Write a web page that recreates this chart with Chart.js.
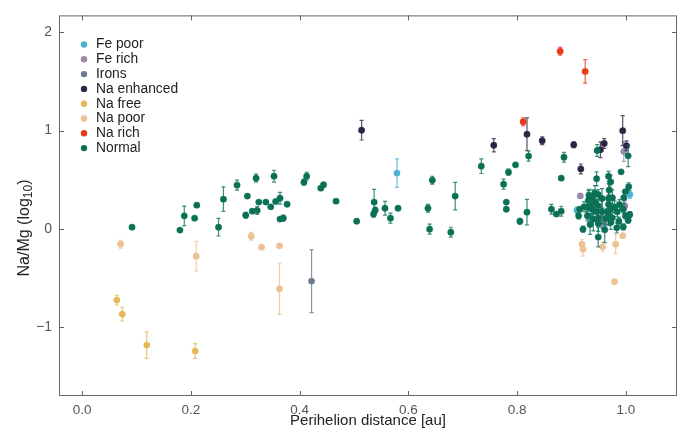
<!DOCTYPE html>
<html>
<head>
<meta charset="utf-8">
<script src="https://cdn.jsdelivr.net/npm/chart.js@4.4.0/dist/chart.umd.min.js"></script>
<style>
html, body { margin: 0; padding: 0; background: #fff; }
</style>
</head>
<body>
<canvas id="chart" width="686" height="430"></canvas>
<script>
// tick labels
const xTicks = [0, 0.2, 0.4, 0.6, 0.8, 1.0];
const yTicks = [-1, 0, 1, 2];

// groups: perihelion distance, Na/Mg, error
const groupNames = ['Fe poor', 'Fe rich', 'Irons', 'Na enhanced', 'Na free', 'Na poor', 'Na rich', 'Normal'];
const groupColors = ['#4ab3cf', '#9b88aa', '#6d7b8c', '#2e2545', '#e4b95c', '#edc194', '#ea3a1b', '#0b7156'];

const fePoorX = [0.579, 1.007, 0.910, 0.932, 0.958];
const fePoorY = [0.567, 0.349, 0.190, 0.122, 0.027];
const fePoorE = [0.146, 0.04, 0.03, 0.08, 0.05];

const feRichX = [0.916, 0.996, 0.998, 0.957, 0.958];
const feRichY = [0.335, 0.787, 0.234, 0.112, 0.064];
const feRichE = [0.02, 0.10, 0.05, 0.10, 0.06];

const ironsX = [0.422];
const ironsY = [-0.532];
const ironsE = [0.32];

const naEnhX = [0.514, 0.757, 0.818, 0.846, 0.904, 0.917, 0.960, 0.953, 0.994, 1.001];
const naEnhY = [1.004, 0.851, 0.963, 0.896, 0.855, 0.610, 0.869, 0.805, 0.999, 0.845];
const naEnhE = [0.10, 0.068, 0.166, 0.04, 0.03, 0.05, 0.05, 0.08, 0.153, 0.05];

const naFreeX = [0.064, 0.074, 0.119, 0.208];
const naFreeY = [-0.725, -0.868, -1.183, -1.244];
const naFreeE = [0.048, 0.07, 0.135, 0.075];

const naPoorX = [0.071, 0.210, 0.311, 0.330, 0.363, 0.363, 0.919, 0.921, 0.957, 0.981, 0.994, 0.979];
const naPoorY = [-0.156, -0.278, -0.075, -0.187, -0.173, -0.610, -0.156, -0.207, -0.183, -0.156, -0.071, -0.539];
const naPoorE = [0.04, 0.15, 0.04, 0, 0.02, 0.26, 0.05, 0.07, 0.05, 0.10, 0, 0];

const naRichX = [0.879, 0.925, 0.811];
const naRichY = [1.807, 1.602, 1.090];
const naRichE = [0.04, 0.12, 0.04];

const normalX = [0.092, 0.180, 0.188, 0.207, 0.211, 0.251, 0.260, 0.285, 0.301, 0.304,
  0.313, 0.320, 0.322, 0.325, 0.338, 0.347, 0.353, 0.356, 0.364, 0.364,
  0.370, 0.377, 0.408, 0.413, 0.439, 0.444, 0.467, 0.505, 0.537, 0.536,
  0.539, 0.557, 0.567, 0.581, 0.636, 0.644, 0.639, 0.678, 0.686, 0.734,
  0.775, 0.780, 0.780, 0.784, 0.797, 0.805, 0.818, 0.821, 0.863, 0.872,
  0.881, 0.881, 0.886, 0.947, 0.946, 0.968, 0.991, 1.004, 1.005, 0.999,
  0.943, 0.972, 0.969, 0.932, 0.938, 0.949, 0.956, 0.975, 0.996, 0.931,
  0.943, 0.968, 0.923, 0.928, 0.936, 0.949, 0.968, 0.988, 0.979, 0.915,
  0.938, 0.946, 0.956, 0.966, 0.972, 0.984, 0.995, 0.913, 0.929, 0.949,
  0.968, 0.975, 0.999, 1.007, 0.940, 0.963, 0.987, 1.004, 0.934, 0.949,
  0.972, 0.921, 0.983, 0.995, 0.949, 0.961];
const normalY = [0.017, -0.013, 0.132, 0.109, 0.241, 0.017, 0.302, 0.445, 0.139, 0.333,
  0.180, 0.516, 0.186, 0.272, 0.272, 0.224, 0.536, 0.278, 0.312, 0.099,
  0.109, 0.251, 0.475, 0.536, 0.414, 0.448, 0.282, 0.078, 0.272, 0.150,
  0.190, 0.210, 0.109, 0.210, 0.210, 0.495, -0.003, -0.034, 0.333, 0.638,
  0.455, 0.272, 0.200, 0.577, 0.651, 0.078, 0.170, 0.740, 0.200, 0.150,
  0.180, 0.516, 0.729, 0.797, 0.510, 0.535, 0.580, 0.743, 0.429, 0.379,
  0.360, 0.478, 0.394, 0.343, 0.316, 0.349, 0.309, 0.316, 0.316, 0.292,
  0.275, 0.310, 0.224, 0.224, 0.234, 0.234, 0.247, 0.247, 0.224, 0.200,
  0.200, 0.173, 0.173, 0.180, 0.200, 0.173, 0.200, 0.132, 0.132, 0.112,
  0.132, 0.112, 0.132, 0.146, 0.099, 0.105, 0.078, 0.088, 0.044, 0.054,
  0.064, -0.003, 0.010, 0.020, -0.084, -0.010];
const normalE = [0, 0, 0.10, 0, 0, 0.09, 0.125, 0.05, 0.03, 0,
  0, 0.04, 0.04, 0, 0, 0, 0.06, 0, 0.06, 0,
  0.03, 0, 0.03, 0.04, 0, 0.02, 0, 0.02, 0.13, 0.03,
  0.03, 0.07, 0.05, 0, 0.04, 0.04, 0.05, 0.05, 0.14, 0.075,
  0.05, 0, 0, 0.03, 0, 0.03, 0.13, 0.05, 0.05, 0,
  0.05, 0, 0.05, 0.06, 0.07, 0.05, 0, 0.11, 0.04, 0,
  0.08, 0.07, 0.06, 0.06, 0.08, 0.05, 0.10, 0.08, 0.06, 0.10,
  0.12, 0.15, 0.05, 0.06, 0.08, 0.05, 0.10, 0.05, 0.06, 0,
  0.07, 0.10, 0.12, 0.08, 0.06, 0.05, 0.04, 0.03, 0.05, 0.08,
  0.10, 0.05, 0.03, 0.03, 0.12, 0.06, 0.04, 0.03, 0.10, 0.08,
  0.07, 0.03, 0.05, 0.03, 0.10, 0.13];

const groupX = [fePoorX, feRichX, ironsX, naEnhX, naFreeX, naPoorX, naRichX, normalX];
const groupY = [fePoorY, feRichY, ironsY, naEnhY, naFreeY, naPoorY, naRichY, normalY];
const groupE = [fePoorE, feRichE, ironsE, naEnhE, naFreeE, naPoorE, naRichE, normalE];

const FONT = '"Liberation Sans", Arial, sans-serif';

function hexA(hex, a) {
  const n = parseInt(hex.slice(1), 16);
  return 'rgba(' + (n >> 16) + ',' + ((n >> 8) & 255) + ',' + (n & 255) + ',' + a + ')';
}

const datasets = groupNames.map((name, i) => ({
  label: name,
  data: groupX[i].map((x, j) => ({ x: x, y: groupY[i][j], e: groupE[i][j] })),
  backgroundColor: groupColors[i],
  borderColor: hexA(groupColors[i], 0.35),
  borderWidth: 1,
  pointRadius: 3.2,
  order: groupNames.length - i
}));

// error bars drawn just before each group's markers
const errorBars = {
  id: 'errorBars',
  beforeDatasetDraw(chart, args) {
    const ctx = chart.ctx;
    const xs = chart.scales.x, ys = chart.scales.y;
    const ds = chart.data.datasets[args.index];
    ctx.save();
    ctx.strokeStyle = hexA(ds.backgroundColor, 0.8);
    ctx.lineWidth = 1.2;
    ds.data.forEach(p => {
      if (!p.e) return;
      const px = xs.getPixelForValue(p.x);
      const y1 = ys.getPixelForValue(p.y + p.e);
      const y2 = ys.getPixelForValue(p.y - p.e);
      ctx.beginPath();
      ctx.moveTo(px, y1); ctx.lineTo(px, y2);
      ctx.moveTo(px - 2, y1); ctx.lineTo(px + 2, y1);
      ctx.moveTo(px - 2, y2); ctx.lineTo(px + 2, y2);
      ctx.stroke();
    });
    ctx.restore();
  }
};

// box, inward ticks, axis titles and legend
const frame = {
  id: 'frame',
  afterDraw(chart) {
    const ctx = chart.ctx;
    const a = chart.chartArea;
    const xs = chart.scales.x, ys = chart.scales.y;
    ctx.save();
    ctx.strokeStyle = '#666';
    ctx.lineWidth = 1;
    ctx.strokeRect(a.left + 0.5, a.top + 0.5, a.right - a.left - 1, a.bottom - a.top - 1);
    ctx.beginPath();
    xTicks.forEach(v => {
      const px = Math.round(xs.getPixelForValue(v)) + 0.5;
      ctx.moveTo(px, a.bottom); ctx.lineTo(px, a.bottom - 5);
      ctx.moveTo(px, a.top); ctx.lineTo(px, a.top + 5);
    });
    yTicks.forEach(v => {
      const py = Math.round(ys.getPixelForValue(v)) + 0.5;
      ctx.moveTo(a.left, py); ctx.lineTo(a.left + 5, py);
      ctx.moveTo(a.right, py); ctx.lineTo(a.right - 5, py);
    });
    ctx.stroke();

    ctx.fillStyle = '#222';
    ctx.font = '15px ' + FONT;
    ctx.textAlign = 'center';
    ctx.textBaseline = 'middle';
    ctx.fillText('Perihelion distance [au]', (a.left + a.right) / 2, 421);

    // y title with a real subscript
    ctx.translate(25, 228);
    ctx.rotate(-Math.PI / 2);
    ctx.font = '16px ' + FONT;
    const head = 'Na/Mg (log', sub = '10', tail = ')';
    const wHead = ctx.measureText(head).width;
    const wTail = ctx.measureText(tail).width;
    ctx.font = '12px ' + FONT;
    const wSub = ctx.measureText(sub).width;
    let x0 = -(wHead + wSub + wTail) / 2;
    ctx.textAlign = 'left';
    ctx.font = '16px ' + FONT;
    ctx.fillText(head, x0, 0);
    ctx.font = '12px ' + FONT;
    ctx.fillText(sub, x0 + wHead, 4);
    ctx.font = '16px ' + FONT;
    ctx.fillText(tail, x0 + wHead + wSub, 0);
    ctx.setTransform(1, 0, 0, 1, 0, 0);

    ctx.font = '13.8px ' + FONT;
    ctx.textAlign = 'left';
    groupNames.forEach((name, i) => {
      const y = 44.5 + i * 14.8;
      ctx.fillStyle = groupColors[i];
      ctx.beginPath();
      ctx.arc(84, y, 3.2, 0, Math.PI * 2);
      ctx.fill();
      ctx.fillStyle = '#222';
      ctx.fillText(name, 96, y);
    });
    ctx.restore();
  }
};

new Chart(document.getElementById('chart'), {
  type: 'scatter',
  data: { datasets: datasets },
  options: {
    responsive: false,
    animation: false,
    devicePixelRatio: 1,
    layout: { padding: { top: 13, right: 9, left: 0, bottom: 0 } },
    plugins: { legend: { display: false }, tooltip: { enabled: false } },
    scales: {
      x: {
        type: 'linear',
        min: -0.0423,
        max: 1.0938,
        grid: { display: false, drawTicks: false, tickLength: 0 },
        border: { display: false },
        afterBuildTicks: s => { s.ticks = xTicks.map(v => ({ value: v })); },
        afterFit: s => { s.height = 34; },
        ticks: {
          color: '#555',
          font: { family: FONT, size: 13.5 },
          padding: 6,
          maxRotation: 0,
          callback: v => v.toFixed(1)
        }
      },
      y: {
        type: 'linear',
        min: -1.701,
        max: 2.172,
        grid: { display: false, drawTicks: false, tickLength: 0 },
        border: { display: false },
        afterBuildTicks: s => { s.ticks = yTicks.map(v => ({ value: v })); },
        afterFit: s => { s.width = 59; },
        ticks: {
          color: '#555',
          font: { family: FONT, size: 14 },
          padding: 7,
          callback: v => (v < 0 ? '\u2212' : '') + Math.abs(v)
        }
      }
    }
  },
  plugins: [errorBars, frame]
});
</script>
</body>
</html>
